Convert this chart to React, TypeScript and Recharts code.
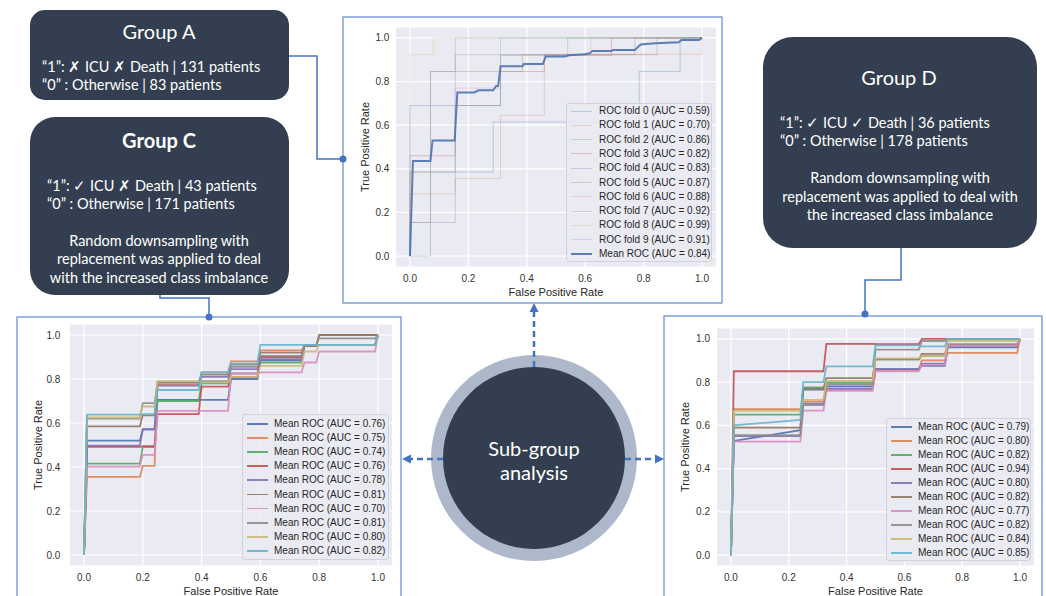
import { LineChart, Line, XAxis, YAxis, CartesianGrid, Legend, Label } from 'recharts';

const FONT = '"Liberation Sans", Arial, sans-serif';
const BOX_FONT = 'Lato, "Open Sans", sans-serif';
const ticks = [0, 0.2, 0.4, 0.6, 0.8, 1.0];
const palette = ['#4C72B0', '#DD8452', '#55A868', '#C44E52', '#8172B3', '#937860', '#DA8BC3', '#8C8C8C', '#CCB974', '#64B5CD'];

// Group A: 10-fold ROC curves (fpr, tpr) drawn as steps, plus the mean ROC
const foldAuc = [0.59, 0.70, 0.86, 0.82, 0.83, 0.87, 0.88, 0.92, 0.99, 0.91];
const foldRoc: number[][][] = [
  [[0, 0], [0.07, 0.385], [0.285, 0.615], [0.785, 0.846], [0.925, 1], [1, 1]],
  [[0, 0], [0, 0.285], [0.155, 0.355], [0.31, 0.645], [0.46, 0.925], [1, 1]],
  [[0, 0], [0, 0.385], [0.155, 0.69], [0.31, 0.92], [0.54, 1], [1, 1]],
  [[0, 0], [0, 0.46], [0.155, 0.69], [0.31, 0.846], [0.46, 0.92], [0.69, 1], [1, 1]],
  [[0, 0], [0, 0.154], [0.155, 0.923], [0.77, 1], [1, 1]],
  [[0, 0], [0, 0.385], [0.07, 0.846], [0.385, 0.923], [0.846, 1], [1, 1]],
  [[0, 0], [0, 0.69], [0.155, 0.77], [0.31, 0.923], [0.62, 1], [1, 1]],
  [[0, 0], [0, 0.154], [0.07, 0.846], [0.155, 1], [1, 1]],
  [[0, 0], [0, 0.923], [0.08, 1], [1, 1]],
  [[0, 0], [0, 0.69], [0.31, 1], [1, 1]],
];
const meanAucA = 0.84;
const meanRocA: number[][] = [
  [0, 0], [0.01, 0.436], [0.07, 0.436], [0.077, 0.53], [0.153, 0.53], [0.162, 0.75], [0.22, 0.75],
  [0.235, 0.76], [0.285, 0.76], [0.295, 0.78], [0.302, 0.78], [0.31, 0.87], [0.385, 0.87],
  [0.39, 0.88], [0.455, 0.88], [0.465, 0.915], [0.53, 0.915], [0.545, 0.92], [0.6, 0.925],
  [0.615, 0.93], [0.625, 0.94], [0.69, 0.94], [0.695, 0.945], [0.77, 0.945], [0.79, 0.97],
  [0.84, 0.975], [0.92, 0.98], [0.93, 0.99], [0.99, 0.99], [1, 1],
];

// Group C: mean ROC of 10 downsampled runs, flat level per FPR segment
const aucC = [0.76, 0.75, 0.74, 0.76, 0.78, 0.81, 0.70, 0.81, 0.80, 0.82];
const segmentsC = [[0.01, 0.19], [0.2, 0.24], [0.25, 0.39], [0.4, 0.49], [0.5, 0.59], [0.6, 0.74], [0.75, 0.79], [0.8, 0.99]];
const levelsC: number[][] = [
  [0.52, 0.572, 0.705, 0.705, 0.80, 0.885, 0.955, 0.955],
  [0.355, 0.405, 0.775, 0.83, 0.88, 0.93, 0.95, 1.0],
  [0.415, 0.49, 0.70, 0.78, 0.825, 0.875, 0.955, 0.955],
  [0.492, 0.495, 0.64, 0.765, 0.81, 0.90, 0.955, 0.955],
  [0.497, 0.57, 0.77, 0.81, 0.845, 0.89, 0.955, 0.955],
  [0.585, 0.635, 0.785, 0.82, 0.865, 0.92, 0.95, 1.0],
  [0.402, 0.455, 0.655, 0.655, 0.825, 0.83, 0.875, 0.925],
  [0.62, 0.69, 0.785, 0.79, 0.855, 0.905, 0.955, 0.985],
  [0.625, 0.675, 0.79, 0.785, 0.81, 0.86, 0.925, 0.955],
  [0.638, 0.64, 0.75, 0.83, 0.87, 0.955, 0.955, 0.955],
];

// Group D
const aucD = [0.79, 0.80, 0.82, 0.94, 0.80, 0.82, 0.77, 0.82, 0.84, 0.85];
const segmentsD = [[0.01, 0.24], [0.25, 0.32], [0.33, 0.49], [0.5, 0.65], [0.66, 0.74], [0.75, 0.99]];
const levelsD: (number | number[])[][] = [
  [[0.528, 0.578], 0.765, 0.78, 0.86, 0.875, 0.96],
  [0.675, 0.71, 0.765, 0.855, 0.90, 0.935],
  [0.65, 0.775, 0.798, 0.905, 0.92, 0.975],
  [0.85, 0.85, 0.977, 0.975, 1.0, 1.0],
  [0.55, 0.70, 0.77, 0.86, 0.885, 0.97],
  [0.59, 0.77, 0.818, 0.905, 0.93, 0.97],
  [0.525, 0.668, 0.76, 0.85, 0.88, 0.97],
  [0.555, 0.694, 0.79, 0.95, 0.99, 1.0],
  [0.667, 0.718, 0.806, 0.91, 0.92, 0.99],
  [[0.60, 0.625], 0.80, 0.873, 0.97, 0.965, 1.0],
];

type Pt = { x: number; y: number };
type Series = { name: string; color: string; data: Pt[]; width: number; opacity: number; type: 'linear' | 'stepAfter' };

const toPts = (pairs: number[][]): Pt[] => pairs.map(([x, y]) => ({ x, y }));

function segmentCurve(segments: number[][], levels: (number | number[])[]): Pt[] {
  const pts: Pt[] = [{ x: 0, y: 0 }];
  segments.forEach(([a, b], i) => {
    const v = levels[i];
    const [s, e] = Array.isArray(v) ? v : [v, v];
    pts.push({ x: a, y: s }, { x: b, y: e });
  });
  pts.push({ x: 1, y: 1 });
  return pts;
}

const seriesA: Series[] = [
  ...foldRoc.map((f, i) => ({
    name: `ROC fold ${i} (AUC = ${foldAuc[i].toFixed(2)})`,
    color: palette[i], data: toPts(f), width: 1, opacity: 0.3, type: 'stepAfter' as const,
  })),
  { name: `Mean ROC (AUC = ${meanAucA.toFixed(2)})`, color: '#4C72B0', data: toPts(meanRocA), width: 2, opacity: 0.9, type: 'linear' },
];
const seriesC: Series[] = levelsC.map((lv, i) => ({
  name: `Mean ROC (AUC = ${aucC[i].toFixed(2)})`, color: palette[i], data: segmentCurve(segmentsC, lv), width: 1.8, opacity: 0.9, type: 'linear',
}));
const seriesD: Series[] = levelsD.map((lv, i) => ({
  name: `Mean ROC (AUC = ${aucD[i].toFixed(2)})`, color: palette[i], data: segmentCurve(segmentsD, lv), width: 1.8, opacity: 0.9, type: 'linear',
}));

function LegendBox({ items, box }: { items: Series[]; box: { left: number; top: number; w: number; h: number; first: number; step: number; textX: number } }) {
  return (
    <div style={{
      position: 'relative', width: box.w, height: box.h, boxSizing: 'border-box',
      background: 'rgba(234,234,242,0.85)', border: '1px solid #D2D2DA', borderRadius: 3, fontFamily: FONT,
    }}>
      {items.map((s, i) => (
        <div key={i} style={{ position: 'absolute', left: 0, top: box.first + i * box.step - 7, height: 14, width: box.w, lineHeight: '14px' }}>
          <div style={{ position: 'absolute', left: 4, top: 7 - s.width / 2, width: 21, height: s.width, background: s.color, opacity: s.opacity }} />
          <span style={{ position: 'absolute', left: box.textX, top: 0, fontSize: 10, color: '#262626', whiteSpace: 'nowrap' }}>{s.name}</span>
        </div>
      ))}
    </div>
  );
}

type PanelProps = {
  left: number; top: number; width: number; height: number;
  margin: { top: number; right: number; bottom: number; left: number };
  yLabelOffset: number; yTickMargin: number; series: Series[];
  legend: { left: number; top: number; w: number; h: number; first: number; step: number; textX: number };
};

function RocPanel({ left, top, width, height, margin, yLabelOffset, yTickMargin, series, legend }: PanelProps) {
  return (
    <div style={{ position: 'absolute', left, top }}>
      <LineChart width={width} height={height} margin={margin} style={{ fontFamily: FONT }}>
        <CartesianGrid fill="#EAEAF2" stroke="#FFFFFF" strokeWidth={1.2} />
        <XAxis type="number" dataKey="x" domain={[-0.05, 1.05]} ticks={ticks} allowDataOverflow
          tickFormatter={(v: number) => v.toFixed(1)} axisLine={false} tickLine={false} height={30}
          tick={{ fontSize: 10, fill: '#333333' }}>
          <Label value="False Positive Rate" position="insideBottom" offset={1} style={{ fontSize: 11, fill: '#262626' }} />
        </XAxis>
        <YAxis type="number" dataKey="y" domain={[-0.05, 1.05]} ticks={ticks} allowDataOverflow
          tickFormatter={(v: number) => v.toFixed(1)} axisLine={false} tickLine={false} width={40}
          tickMargin={yTickMargin} tick={{ fontSize: 10, fill: '#333333' }}>
          <Label value="True Positive Rate" angle={-90} position="insideLeft" offset={yLabelOffset}
            style={{ fontSize: 11, fill: '#262626', textAnchor: 'middle' }} />
        </YAxis>
        {series.map((s, i) => (
          <Line key={i} name={s.name} data={s.data} dataKey="y" type={s.type} stroke={s.color}
            strokeWidth={s.width} strokeOpacity={s.opacity} dot={false} activeDot={false} isAnimationActive={false} />
        ))}
        <Legend layout="vertical" align="center" verticalAlign="middle"
          wrapperStyle={{ left: legend.left, top: legend.top, width: legend.w, height: legend.h }}
          content={() => <LegendBox items={series} box={legend} />} />
      </LineChart>
    </div>
  );
}

const NAVY = '#333F50';
const LINK = '#4472C4';
const FRAME = '#6F93D8';

function Diagram() {
  const txt = { fill: '#FFFFFF', fontFamily: BOX_FONT, dominantBaseline: 'central' as const };
  return (
    <svg width={1046} height={596} style={{ position: 'absolute', left: 0, top: 0 }}>
      {/* chart frames */}
      <rect x={343} y={17} width={379} height={286} fill="none" stroke={FRAME} strokeWidth={1.3} />
      <rect x={17} y={317} width={384} height={300} fill="none" stroke={FRAME} strokeWidth={1.3} />
      <rect x={664} y={316} width={378} height={300} fill="none" stroke={FRAME} strokeWidth={1.3} />

      {/* connectors */}
      <polyline points="289,56 317,56 317,159 343,159" fill="none" stroke={LINK} strokeWidth={1.5} />
      <circle cx={343} cy={159} r={3.5} fill={LINK} />
      <polyline points="160,295 160,298 209,298 209,317" fill="none" stroke={LINK} strokeWidth={1.5} />
      <circle cx={209} cy={317} r={3.5} fill={LINK} />
      <polyline points="901,248 901,280 865,280 865,314" fill="none" stroke={LINK} strokeWidth={1.5} />
      <circle cx={865} cy={314} r={3.5} fill={LINK} />

      {/* Group A */}
      <rect x={30} y={10} width={259} height={90} rx={15} fill={NAVY} />
      <text x={159} y={31} textAnchor="middle" fontSize={20} {...txt}>Group A</text>
      <text x={42} y={66} fontSize={14.5} {...txt}>“1”: ✗ ICU ✗ Death | 131 patients</text>
      <text x={42} y={84} fontSize={14.5} {...txt}>“0” : Otherwise | 83 patients</text>

      {/* Group C */}
      <rect x={30} y={117} width={259} height={178} rx={25} fill={NAVY} />
      <text x={159} y={140} textAnchor="middle" fontSize={20} fontWeight="bold" {...txt}>Group C</text>
      <text x={47} y={185} fontSize={14.5} {...txt}>“1”: ✓ ICU ✗ Death | 43 patients</text>
      <text x={47} y={203} fontSize={14.5} {...txt}>“0” : Otherwise | 171 patients</text>
      <text x={159} y={240} textAnchor="middle" fontSize={14.5} {...txt}>Random downsampling with</text>
      <text x={159} y={258} textAnchor="middle" fontSize={14.5} {...txt}>replacement was applied to deal</text>
      <text x={159} y={277} textAnchor="middle" fontSize={14.5} {...txt}>with the increased class imbalance</text>

      {/* Group D */}
      <rect x={763} y={37} width={274} height={211} rx={30} fill={NAVY} />
      <text x={899} y={77} textAnchor="middle" fontSize={20} {...txt}>Group D</text>
      <text x={780} y={122} fontSize={14.5} {...txt}>“1”: ✓ ICU ✓ Death | 36 patients</text>
      <text x={780} y={140} fontSize={14.5} {...txt}>“0” : Otherwise | 178 patients</text>
      <text x={900} y={177} textAnchor="middle" fontSize={14.5} {...txt}>Random downsampling with</text>
      <text x={900} y={196} textAnchor="middle" fontSize={14.5} {...txt}>replacement was applied to deal with</text>
      <text x={900} y={214} textAnchor="middle" fontSize={14.5} {...txt}>the increased class imbalance</text>

      {/* hub */}
      <circle cx={534} cy={458} r={103} fill="#ADB9CA" />
      <circle cx={534} cy={458} r={91} fill={NAVY} />
      <text x={534} y={448} textAnchor="middle" fontSize={20} {...txt}>Sub-group</text>
      <text x={534} y={472} textAnchor="middle" fontSize={20} {...txt}>analysis</text>

      {/* dashed arrows */}
      <line x1={534} y1={367} x2={534} y2={310} stroke={LINK} strokeWidth={2.5} strokeDasharray="6 4" />
      <polygon points="534,303 529.5,312 538.5,312" fill={LINK} />
      <line x1={443} y1={459} x2={409} y2={459} stroke={LINK} strokeWidth={2.5} strokeDasharray="6 4" />
      <polygon points="402,459 411,454.5 411,463.5" fill={LINK} />
      <line x1={625} y1={459} x2={657} y2={459} stroke={LINK} strokeWidth={2.5} strokeDasharray="6 4" />
      <polygon points="664,459 655,454.5 655,463.5" fill={LINK} />
    </svg>
  );
}

export default function App() {
  return (
    <div style={{ position: 'absolute', left: 0, top: 0, width: 1046, height: 596, overflow: 'hidden', background: '#FFFFFF' }}>
      <Diagram />
      <RocPanel left={343} top={17} width={379} height={286}
        margin={{ top: 10, right: 5.4, bottom: 6, left: 12.4 }} yLabelOffset={9.6} yTickMargin={0}
        series={seriesA}
        legend={{ left: 223, top: 86, w: 146, h: 159, first: 7, step: 14.3, textX: 32 }} />
      <RocPanel left={17} top={317} width={384} height={279}
        margin={{ top: 7, right: 8.3, bottom: 0, left: 12.3 }} yLabelOffset={8.7} yTickMargin={3}
        series={seriesC}
        legend={{ left: 225, top: 97, w: 147, h: 146, first: 9, step: 14.1, textX: 31 }} />
      <RocPanel left={664} top={316} width={378} height={280}
        margin={{ top: 12, right: 7.5, bottom: 0, left: 12.5 }} yLabelOffset={8.5} yTickMargin={0.5}
        series={seriesD}
        legend={{ left: 222, top: 102, w: 145, h: 143, first: 8, step: 14, textX: 31 }} />
    </div>
  );
}
